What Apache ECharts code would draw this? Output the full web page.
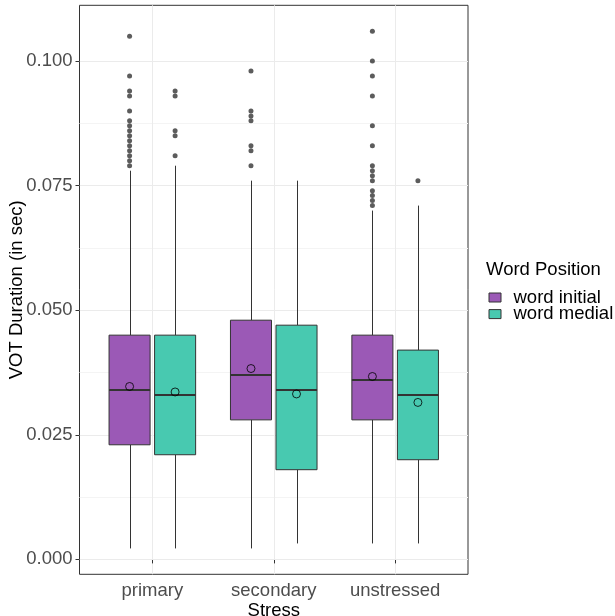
<!DOCTYPE html>
<html>
<head>
<meta charset="utf-8">
<script src="https://cdn.jsdelivr.net/npm/echarts@6/dist/echarts.min.js"></script>
<style>
  html, body { margin: 0; padding: 0; background: #ffffff; }
  #chart { width: 615px; height: 616px; }
</style>
</head>
<body>
<div id="chart"></div>
<script>
// Stress categories and word-position groups
const categories = ['primary', 'secondary', 'unstressed'];
const groups = ['word initial', 'word medial'];

// Box statistics per stress category: [lower whisker, Q1, median, Q3, upper whisker]
const initialBoxes = [
  [0.0022, 0.023, 0.034, 0.045, 0.078],
  [0.0022, 0.028, 0.037, 0.048, 0.076],
  [0.0032, 0.028, 0.036, 0.045, 0.070]
];
const medialBoxes = [
  [0.0022, 0.021, 0.033, 0.045, 0.079],
  [0.0032, 0.018, 0.034, 0.047, 0.076],
  [0.0032, 0.020, 0.033, 0.042, 0.071]
];

// Group means
const initialMeans = [0.0347, 0.0383, 0.0367];
const medialMeans = [0.0336, 0.0332, 0.0315];

// Outlying observations
const initialOutliers = [
  [0.105, 0.097, 0.094, 0.093, 0.090, 0.088, 0.087, 0.086, 0.085, 0.084, 0.083, 0.082, 0.081, 0.080, 0.079],
  [0.098, 0.090, 0.089, 0.088, 0.083, 0.082, 0.079],
  [0.106, 0.100, 0.097, 0.093, 0.087, 0.083, 0.079, 0.078, 0.077, 0.076, 0.074, 0.073, 0.072, 0.071]
];
const medialOutliers = [
  [0.094, 0.093, 0.086, 0.085, 0.081],
  [],
  [0.076]
];

// Axis breaks
const yTicks = [0, 0.025, 0.05, 0.075, 0.1];
const yMinorTicks = [0.0125, 0.0375, 0.0625, 0.0875];
const xTicks = [1, 2, 3];

const fontFamily = "'Liberation Sans', Arial, sans-serif";
const fontSize = 18.5;
const groupColors = ['#9B59B6', '#48C9B0'];
const dodge = [-0.1875, 0.1875];
const halfBox = 0.169;

// Continuous y range with 5% expansion on both ends
const allValues = [];
[initialBoxes, medialBoxes].forEach(b => b.forEach(r => allValues.push(r[0], r[4])));
[initialOutliers, medialOutliers].forEach(o => o.forEach(r => r.forEach(v => allValues.push(v))));
const dataLo = Math.min(...allValues);
const dataHi = Math.max(...allValues);
const pad = (dataHi - dataLo) * 0.05;
const yMin = dataLo - pad;
const yMax = dataHi + pad;

function boxRenderer(offset) {
  return function (params, api) {
    const x = api.value(0) + offset;
    const lo = api.value(1), q1 = api.value(2), med = api.value(3), q3 = api.value(4), hi = api.value(5);
    const left = api.coord([x - halfBox, q3]);
    const right = api.coord([x + halfBox, q1]);
    const cLo = api.coord([x, lo]);
    const cHi = api.coord([x, hi]);
    const cMed = api.coord([x, med]);
    const cx = Math.round(cLo[0]) + 0.5;
    const color = api.visual('color');
    return {
      type: 'group',
      children: [
        { type: 'line', shape: { x1: cx, y1: cHi[1], x2: cx, y2: left[1] },
          style: { stroke: '#333333', lineWidth: 1 } },
        { type: 'line', shape: { x1: cx, y1: right[1], x2: cx, y2: cLo[1] },
          style: { stroke: '#333333', lineWidth: 1 } },
        { type: 'rect', shape: { x: left[0], y: left[1], width: right[0] - left[0], height: right[1] - left[1] },
          style: { fill: color, stroke: '#333333', lineWidth: 1 } },
        { type: 'line', shape: { x1: left[0], y1: cMed[1], x2: right[0], y2: cMed[1] },
          style: { stroke: '#333333', lineWidth: 2 } }
      ]
    };
  };
}

function boxData(boxes) {
  return boxes.map((b, i) => [i + 1].concat(b));
}
function pointData(lists, offset) {
  const out = [];
  lists.forEach((list, i) => list.forEach(v => out.push([i + 1 + offset, v])));
  return out;
}
function meanData(means, offset) {
  return means.map((m, i) => [i + 1 + offset, m]);
}

const chart = echarts.init(document.getElementById('chart'), null, { renderer: 'canvas' });

chart.setOption({
  animation: false,
  backgroundColor: '#ffffff',
  textStyle: { fontFamily: fontFamily },
  grid: {
    left: 79.5, right: 147, top: 5.3, bottom: 41.7,
    outerBoundsMode: 'none',
    containLabel: false,
    show: true, borderColor: '#333333', borderWidth: 1, backgroundColor: 'transparent'
  },
  title: {
    text: 'Word Position',
    left: 486, top: 260, padding: 0,
    textStyle: { fontFamily: fontFamily, fontSize: fontSize, fontWeight: 'normal', color: '#000000' }
  },
  legend: {
    orient: 'vertical',
    left: 488.5, top: 288, padding: 0,
    itemWidth: 12, itemHeight: 9, itemGap: -2.4,
    icon: 'rect',
    textStyle: { fontFamily: fontFamily, fontSize: fontSize, color: '#000000', lineHeight: 17, padding: [0, 0, 0, 7.5] },
    data: groups.map((g, i) => ({
      name: g,
      itemStyle: { color: groupColors[i], borderColor: '#333333', borderWidth: 1 }
    }))
  },
  xAxis: {
    type: 'value',
    min: 0.4, max: 3.6,
    name: 'Stress',
    nameLocation: 'middle',
    nameGap: 27,
    nameMoveOverlap: false,
    nameTextStyle: { fontFamily: fontFamily, fontSize: fontSize, color: '#000000' },
    axisLine: { show: false },
    axisTick: { show: true, customValues: xTicks, length: 4, lineStyle: { color: '#333333' } },
    axisLabel: {
      customValues: xTicks, margin: 7,
      fontFamily: fontFamily, fontSize: fontSize, color: '#4d4d4d',
      formatter: v => categories[Math.round(v) - 1]
    },
    splitLine: { show: true, lineStyle: { color: '#ebebeb', width: 1 } }
  },
  yAxis: [
    {
      type: 'value',
      min: yMin, max: yMax,
      name: 'VOT Duration (in sec)',
      nameLocation: 'middle',
      nameGap: 53,
      nameMoveOverlap: false,
      nameTextStyle: { fontFamily: fontFamily, fontSize: fontSize, color: '#000000' },
      axisLine: { show: false },
      axisTick: { show: true, customValues: yTicks, length: 4, lineStyle: { color: '#333333' } },
      axisLabel: {
        customValues: yTicks, margin: 7,
        fontFamily: fontFamily, fontSize: fontSize, color: '#4d4d4d',
        formatter: v => v.toFixed(3)
      },
      splitLine: { show: true, lineStyle: { color: '#ebebeb', width: 1 } },
      z: 1
    },
    {
      type: 'value',
      min: yMin, max: yMax,
      position: 'left',
      axisLine: { show: false },
      axisTick: { show: false, customValues: yMinorTicks },
      axisLabel: { show: false, customValues: yMinorTicks },
      splitLine: { show: true, lineStyle: { color: '#f4f4f4', width: 1 } },
      z: 0
    }
  ],
  series: [
    {
      name: groups[0], type: 'custom', xAxisIndex: 0, yAxisIndex: 0,
      itemStyle: { color: groupColors[0], borderColor: '#333333', borderWidth: 1 },
      renderItem: boxRenderer(dodge[0]),
      encode: { x: 0, y: [1, 2, 3, 4, 5] },
      data: boxData(initialBoxes), z: 3
    },
    {
      name: groups[1], type: 'custom', xAxisIndex: 0, yAxisIndex: 0,
      itemStyle: { color: groupColors[1], borderColor: '#333333', borderWidth: 1 },
      renderItem: boxRenderer(dodge[1]),
      encode: { x: 0, y: [1, 2, 3, 4, 5] },
      data: boxData(medialBoxes), z: 3
    },
    {
      name: 'outliers-initial', type: 'scatter', symbol: 'circle', symbolSize: 5,
      itemStyle: { color: '#333333' }, data: pointData(initialOutliers, dodge[0]), z: 4
    },
    {
      name: 'outliers-medial', type: 'scatter', symbol: 'circle', symbolSize: 5,
      itemStyle: { color: '#333333' }, data: pointData(medialOutliers, dodge[1]), z: 4
    },
    {
      name: 'mean-initial', type: 'scatter', symbol: 'circle', symbolSize: 8,
      itemStyle: { color: 'transparent', borderColor: '#000000', borderWidth: 1 },
      data: meanData(initialMeans, dodge[0]), z: 5
    },
    {
      name: 'mean-medial', type: 'scatter', symbol: 'circle', symbolSize: 8,
      itemStyle: { color: 'transparent', borderColor: '#000000', borderWidth: 1 },
      data: meanData(medialMeans, dodge[1]), z: 5
    }
  ]
});
</script>
</body>
</html>
